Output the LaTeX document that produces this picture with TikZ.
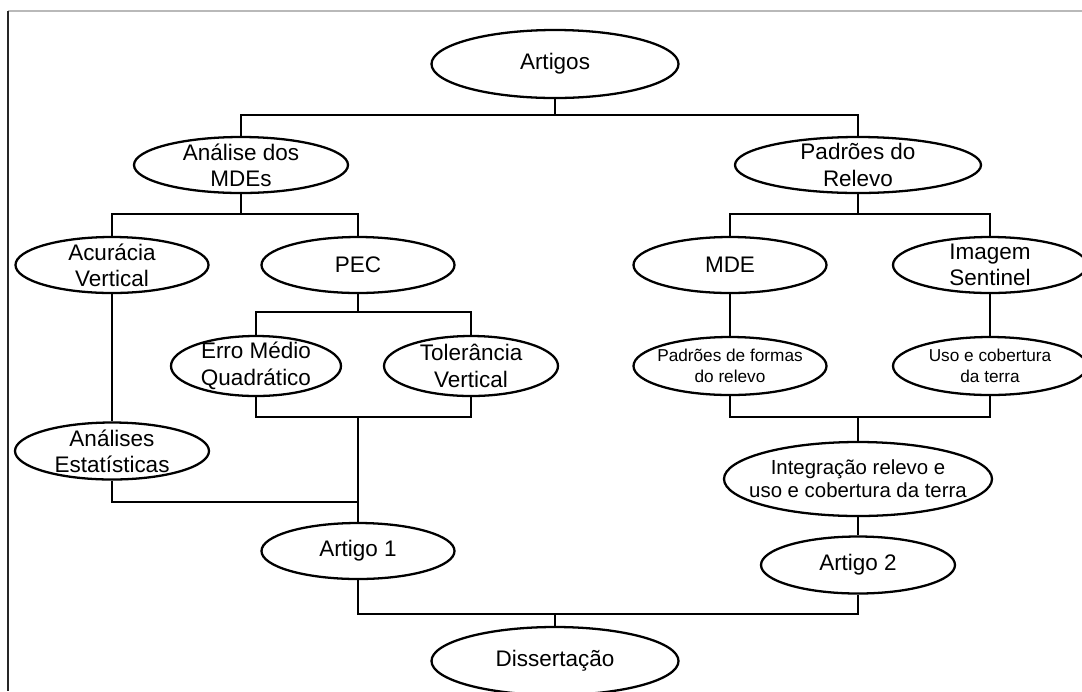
\documentclass[tikz,border=0pt]{standalone}
\usepackage{fontspec}
\setmainfont{Liberation Sans}
\usetikzlibrary{shapes.geometric}

\begin{document}
\begin{tikzpicture}
[
    x = 0.02cm, y = -0.02cm,
    bubble/.style 2 args={ellipse, draw, line width = 1.3pt, inner sep = 0pt, minimum width = #1*0.02cm, minimum height = #2*0.02cm},
    every label/.style={font = \fontsize{12.8}{15}\selectfont, align = center, inner sep = 0pt},
    tiny/.style={font = \fontsize{9.8}{11.6}\selectfont},
    mid/.style={font = \fontsize{11.6}{13}\selectfont},
    link/.style={draw, line width = 1.3pt},
    frame/.style={line width = 0.8pt},
]
\useasboundingbox (0,0) rectangle (1082,691);

% page edge
\draw[frame, gray!55] (8,11) -- (1082,11);
\draw[frame, black!85] (8,11) -- (8,691);

% top level
\node[bubble={247}{68}, label={center:Artigos}] (artigos) at (555,64) {};
\node[bubble={214}{56}, label={center:Análise dos\\MDEs}] (analise) at (241,165) {};
\node[bubble={246}{56}, label={center:Padrões do\\Relevo}] (padroes) at (858,165) {};

% left branch
\node[bubble={193}{56}, label={center:Acurácia\\Vertical}] (acuracia) at (112,265) {};
\node[bubble={193}{56}, label={center:PEC}] (pec) at (358,265) {};
\node[bubble={170}{60}, label={center:Erro Médio\\Quadrático}] (erro) at (256,366) {};
\node[bubble={174}{60}, label={center:Tolerância\\Vertical}] (tolerancia) at (471,366) {};
\node[bubble={194}{57}, label={center:Análises\\Estatísticas}] (analises) at (112,451) {};
\node[bubble={193}{56}, label={center:Artigo 1}] (artigo1) at (358,551) {};

% right branch
\node[bubble={193}{56}, label={center:MDE}] (mde) at (730,265) {};
\node[bubble={194}{56}, label={center:Imagem\\Sentinel}] (sentinel) at (990,265) {};
\node[bubble={193}{58}, label={[tiny]center:Padrões de formas\\do relevo}] (formas) at (730,366) {};
\node[bubble={194}{58}, label={[tiny]center:Uso e cobertura\\da terra}] (uso) at (990,366) {};
\node[bubble={268}{74}, label={[mid]center:Integração relevo e\\uso e cobertura da terra}] (integ) at (858,479) {};
\node[bubble={194}{57}, label={center:Artigo 2}] (artigo2) at (858,565) {};

% bottom
\node[bubble={247}{68}, label={center:Dissertação}] (dissert) at (555,661) {};

% junctions
\coordinate (j1) at (555,115);
\coordinate (j2) at (241,214);
\coordinate (j3) at (858,214);
\coordinate (j4) at (358,312);
\coordinate (j5) at (358,417);
\coordinate (j6) at (358,502);
\coordinate (j7) at (858,417);
\coordinate (j8) at (555,614);

% connectors
\draw[link] (artigos.south) -- (j1);
\draw[link] (analise.north) |- (j1) -| (padroes.north);
\draw[link] (analise.south) -- (j2);
\draw[link] (acuracia.north) |- (j2) -| (pec.north);
\draw[link] (padroes.south) -- (j3);
\draw[link] (mde.north) |- (j3) -| (sentinel.north);
\draw[link] (pec.south) -- (j4);
\draw[link] (erro.north) |- (j4) -| (tolerancia.north);
\draw[link] (acuracia.south) -- (analises.north);
\draw[link] (erro.south) |- (j5) -| (tolerancia.south);
\draw[link] (j5) -- (artigo1.north);
\draw[link] (analises.south) |- (j6);
\draw[link] (mde.south) -- (formas.north);
\draw[link] (sentinel.south) -- (uso.north);
\draw[link] (formas.south) |- (j7) -| (uso.south);
\draw[link] (j7) -- (integ.north);
\draw[link] (integ.south) -- (artigo2.north);
\draw[link] (artigo1.south) |- (j8) -| (artigo2.south);
\draw[link] (j8) -- (dissert.north);
\end{tikzpicture}
\end{document}
